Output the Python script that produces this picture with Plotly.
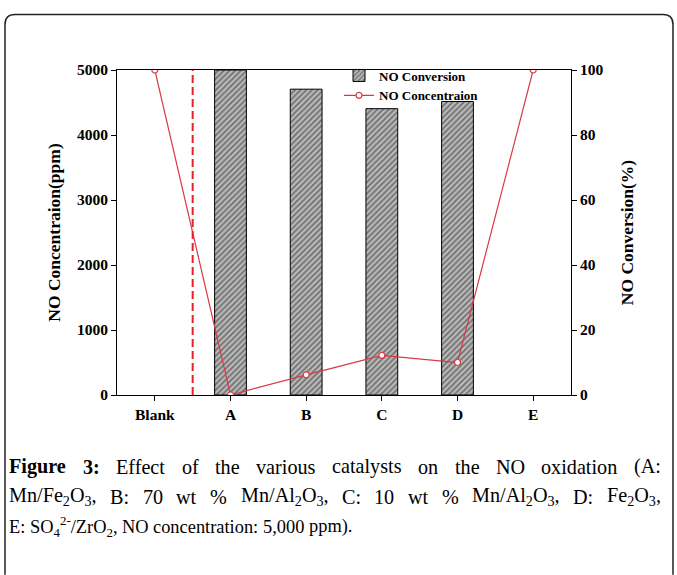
import re
import plotly.graph_objects as go

categories = ["Blank", "A", "B", "C", "D", "E"]
conversion_pct = [None, 100, 94.1, 88.1, 90.3, None]
concentration_ppm = [5000, 0, 310, 610, 500, 5000]
left_ticks = [0, 1000, 2000, 3000, 4000, 5000]
right_ticks = [0, 20, 40, 60, 80, 100]

W, H = 677, 575
L, R, T, B = 117, 571, 69.5, 395


def px(x):
    return (x - L) / (R - L)


def py(y):
    return (B - y) / (B - T)


SERIF = "Liberation Serif"
RED = "#d83a44"

fig = go.Figure()

fig.add_trace(go.Bar(
    x=categories, y=conversion_pct, name="NO Conversion",
    width=0.42,
    marker=dict(color="#a8a8a8", line=dict(color="black", width=1),
                pattern=dict(shape="/", fgcolor="#262626", bgcolor="#bababa",
                             size=4, solidity=0.45)),
    yaxis="y",
))

fig.add_trace(go.Scatter(
    x=categories, y=concentration_ppm, name="NO Concentraion",
    mode="lines+markers",
    line=dict(color=RED, width=1.2),
    marker=dict(symbol="circle", size=6, color="white",
                line=dict(color=RED, width=1.2)),
    yaxis="y2",
))

fig.add_shape(type="line", xref="x", yref="paper", x0=0.5, x1=0.5, y0=0, y1=1,
              line=dict(color="#e8202a", width=2, dash="8px,4px"))

# rounded frame around figure
x0, x1, y0, y1, r = 5, 673, 14, 575, 10
path = (f"M {px(x0)},{py(y1)} L {px(x0)},{py(y0 + r)} "
        f"Q {px(x0)},{py(y0)} {px(x0 + r)},{py(y0)} "
        f"L {px(x1 - r)},{py(y0)} Q {px(x1)},{py(y0)} {px(x1)},{py(y0 + r)} "
        f"L {px(x1)},{py(y1)}")
fig.add_shape(type="path", xref="paper", yref="paper", path=path,
              line=dict(color="#222222", width=1.5), layer="below")

tickfont = dict(family=SERIF, size=15.5, color="black", weight="bold")
titlefont = dict(family=SERIF, size=17.5, color="black", weight="bold")

fig.update_layout(
    width=W, height=H,
    margin=dict(l=L, r=W - R, t=T, b=H - B, pad=0),
    paper_bgcolor="white", plot_bgcolor="white",
    showlegend=True,
    legend=dict(x=px(339), y=py(60), xanchor="left", yanchor="top",
                bgcolor="rgba(0,0,0,0)",
                font=dict(family=SERIF, size=13, color="black", weight="bold"),
                tracegroupgap=0, itemwidth=30),
    xaxis=dict(type="category", categoryorder="array", categoryarray=categories,
               range=[-0.5, 5.5], showline=True, linecolor="black", linewidth=1,
               mirror=True, ticks="outside", ticklen=5, tickcolor="black",
               tickfont=tickfont, showgrid=False, zeroline=False),
    yaxis=dict(side="right", range=[0, 100], tickvals=right_ticks,
               showline=True, linecolor="black", linewidth=1, ticks="outside",
               ticklen=5, tickcolor="black", tickfont=tickfont, showgrid=False,
               zeroline=False,
               title=dict(text="NO Conversion(%)", font=titlefont, standoff=18)),
    yaxis2=dict(side="left", overlaying="y", range=[0, 5000], tickvals=left_ticks,
                showline=True, linecolor="black", linewidth=1, ticks="outside",
                ticklen=5, tickcolor="black", tickfont=tickfont, showgrid=False,
                zeroline=False,
                title=dict(text="NO Concentraion(ppm)", font=titlefont, standoff=11)),
)

# ---- caption (justified like the reference) ----
TIMES = {" ": 250, "(": 333, ")": 333, "%": 833, ",": 250, "-": 333, ".": 250,
         "/": 278, ":": 278}
for d in "0123456789":
    TIMES[d] = 500
TIMES.update(dict(zip("ABCDEFGHIJKLMNOPQRSTUVWXYZ",
                      [722, 667, 667, 722, 611, 556, 722, 722, 333, 389, 722, 611, 889,
                       722, 722, 556, 722, 667, 556, 611, 722, 722, 944, 722, 722, 611])))
TIMES.update(dict(zip("abcdefghijklmnopqrstuvwxyz",
                      [444, 500, 444, 500, 444, 333, 500, 500, 278, 278, 500, 278, 778,
                       500, 500, 500, 500, 333, 389, 278, 500, 500, 722, 500, 500, 444])))
TIMES_B = dict(TIMES)
TIMES_B.update({"F": 611, "u": 556, "r": 444, ":": 333})


def word_width(word, size, bold=False):
    table = TIMES_B if bold else TIMES
    w = 0.0
    for tag, inner, plain in re.findall(r"<(sub|sup)>(.*?)</\1>|([^<]+)", word):
        seg, scale = (inner, 0.7) if tag else (plain, 1.0)
        for ch in seg:
            w += table.get(ch, 500) * scale
    return w / 1000 * size


cap_lines = [
    (["Figure", "3:"], ["Effect", "of", "the", "various", "catalysts", "on", "the", "NO",
                        "oxidation", "(A:"], True, 20.2),
    ([], ["Mn/Fe<sub>2</sub>O<sub>3</sub>,", "B:", "70", "wt", "%",
          "Mn/Al<sub>2</sub>O<sub>3</sub>,", "C:", "10", "wt", "%",
          "Mn/Al<sub>2</sub>O<sub>3</sub>,", "D:", "Fe<sub>2</sub>O<sub>3</sub>,"], True, 20.2),
    ([], ["E:", "SO<sub>4</sub><sup>2-</sup>/ZrO<sub>2</sub>,", "NO", "concentration:",
          "5,000", "ppm)."], False, 18.4),
]
cap_y = [467, 497, 527]
X_START, X_END = 9, 661
for (bold_words, words, justify, size), yy in zip(cap_lines, cap_y):
    items = [(w, True) for w in bold_words] + [(w, False) for w in words]
    widths = [word_width(w, size, b) for w, b in items]
    if justify:
        gap = (X_END - X_START - sum(widths)) / (len(items) - 1)
    else:
        gap = 0.25 * size
    x = X_START
    for (w, b), ww in zip(items, widths):
        fig.add_annotation(text=f"<b>{w}</b>" if b else w, xref="paper", yref="paper",
                           x=px(x), y=py(yy), xanchor="left", yanchor="middle",
                           showarrow=False, font=dict(family=SERIF, size=size, color="black"),
                           align="left", borderpad=0, borderwidth=0)
        x += ww + gap

fig.write_html("out.html")
